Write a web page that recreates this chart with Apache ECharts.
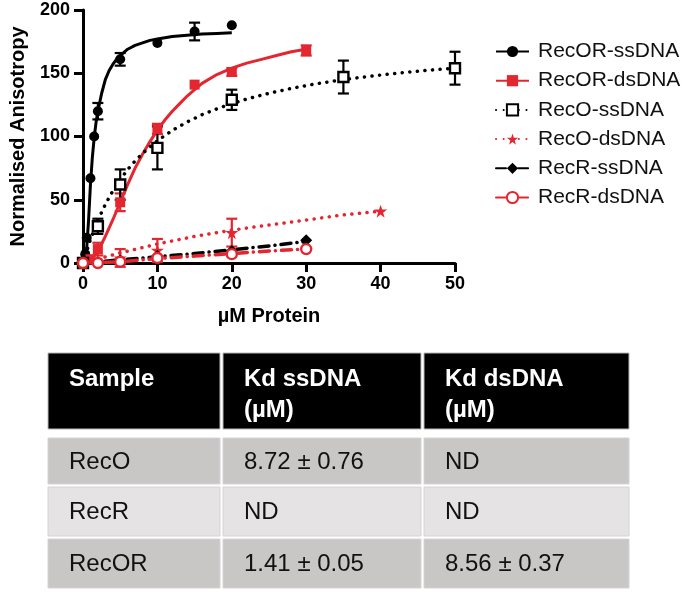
<!DOCTYPE html>
<html><head><meta charset="utf-8">
<script src="https://cdn.jsdelivr.net/npm/echarts@6/dist/echarts.min.js"></script>
<style>html,body{margin:0;padding:0;background:#fff}#c{width:683px;height:592px}</style>
</head><body><div id="c"></div>
<script>
// ---- data ----
const seriesNames = ['RecOR-ssDNA','RecOR-dsDNA','RecO-ssDNA','RecO-dsDNA','RecR-ssDNA','RecR-dsDNA'];
const xTicks = [0,10,20,30,40,50];
const yTicks = [0,50,100,150,200];

// measured points (x, y, error)
const ptX_RecOR_ss = [0, 0.3, 0.5, 1, 1.5, 2, 5, 10, 15, 20];
const ptY_RecOR_ss = [0, 7, 20, 67, 100, 120, 161, 174, 183, 188];
const ptE_RecOR_ss = [0, 0, 0, 0, 0, 6.5, 5, 0, 7, 0];

const ptX_RecOR_ds = [0, 1, 2, 5, 10, 15, 20, 30];
const ptY_RecOR_ds = [0, 3, 11, 48, 106, 141, 151, 168];
const ptE_RecOR_ds = [0, 0, 5, 7, 4, 0, 3, 4];

const ptX_RecO_ss = [0, 2, 5, 10, 20, 35, 50];
const ptY_RecO_ss = [0, 29, 62, 91, 129, 147, 154];
const ptE_RecO_ss = [0, 6, 12, 17, 8, 13, 13];

const ptX_RecO_ds = [0, 2, 5, 10, 20, 40];
const ptY_RecO_ds = [0, 1, 4, 10, 24, 41];
const ptE_RecO_ds = [0, 0, 7, 9, 11, 0];

const ptX_RecR_ss = [0, 2, 5, 10, 20, 30];
const ptY_RecR_ss = [0, 0.5, 2, 5.5, 9.5, 18];

const ptX_RecR_ds = [0, 2, 5, 10, 20, 30];
const ptY_RecR_ds = [0, 0, 1, 4, 7, 11];

// fitted curves
const fitX_RecOR_ss = [0, 0.25, 0.5, 0.75, 1, 1.25, 1.5, 1.75, 2, 2.5, 3, 3.5, 4, 4.5, 5, 6, 7, 8, 9, 10, 12, 14, 16, 18, 20];
const fitY_RecOR_ss = [0, 3, 12, 34, 62, 83, 99, 111, 120, 134, 145, 152, 157, 161, 164, 169, 172, 174, 176, 177, 179, 180, 181, 181.5, 182];

const fitX_RecOR_ds = [0, 1, 2, 3, 4, 5, 6, 7, 8, 9, 10, 11, 12, 13, 14, 15, 16, 18, 20, 22, 24, 26, 28, 30];
const fitY_RecOR_ds = [0, 2, 9, 21, 34, 48, 62, 75, 86, 96, 105, 113, 120, 126, 132, 137, 142, 149, 154, 158, 161, 164, 167, 169];

const fitX_RecO_ss = [0, 1, 2, 3, 4, 5, 6, 7, 8, 9, 10, 12, 14, 16, 18, 20, 22, 25, 28, 31, 34, 37, 40, 43, 46, 50];
const fitY_RecO_ss = [0, 18.6, 33.8, 46.3, 56.9, 66, 73.8, 80.6, 86.6, 91.9, 96.7, 104.8, 111.5, 117.2, 121.9, 126, 129.6, 134.2, 138, 141.3, 144.1, 146.5, 148.6, 150.5, 152.2, 154.1];

const fitX_RecO_ds = [0, 5, 10, 15, 20, 25, 30, 35, 40];
const fitY_RecO_ds = [0, 8, 15, 21, 26, 30, 34, 38, 41];

const fitX_RecR_ss = [0, 5, 10, 15, 20, 25, 30];
const fitY_RecR_ss = [0, 2.5, 5, 7.5, 10.5, 13.5, 17];

const fitX_RecR_ds = [0, 5, 10, 15, 20, 25, 30];
const fitY_RecR_ds = [0, 1, 3.5, 5.5, 7.5, 9.5, 11];

// table
const tableHeader = [['Sample'], ['Kd ssDNA', '(µM)'], ['Kd dsDNA', '(µM)']];
const tableRows = [
  ['RecO', '8.72 ± 0.76', 'ND'],
  ['RecR', 'ND', 'ND'],
  ['RecOR', '1.41 ± 0.05', '8.56 ± 0.37']
];

// ---- styles ----
const RED = '#e3262f', BLK = '#000';
const FONT = '"Liberation Sans", Arial, Helvetica, sans-serif';
const STAR = 'path://M50,0 L61.8,35.4 L99,35.4 L69,57.3 L80.4,93 L50,71 L19.6,93 L31,57.3 L1,35.4 L38.2,35.4 Z';

function zip(xs, ys) { return xs.map((x, i) => [x, ys[i]]); }
function zip3(xs, ys, es) { return xs.map((x, i) => [x, ys[i], es[i]]).filter(d => d[2] > 0); }

const defs = [
  {name: seriesNames[0], color: BLK, fx: fitX_RecOR_ss, fy: fitY_RecOR_ss, px: ptX_RecOR_ss, py: ptY_RecOR_ss, pe: ptE_RecOR_ss,
   symbol: 'circle', size: 10, line: {type: 'solid', width: 3}},
  {name: seriesNames[1], color: RED, fx: fitX_RecOR_ds, fy: fitY_RecOR_ds, px: ptX_RecOR_ds, py: ptY_RecOR_ds, pe: ptE_RecOR_ds,
   symbol: 'rect', size: 10, line: {type: 'solid', width: 3}},
  {name: seriesNames[2], color: BLK, fx: fitX_RecO_ss, fy: fitY_RecO_ss, px: ptX_RecO_ss, py: ptY_RecO_ss, pe: ptE_RecO_ss,
   symbol: 'emptyRect', size: 11, line: {type: [0.1, 7.5], width: 3.5, cap: 'round'}},
  {name: seriesNames[3], color: RED, fx: fitX_RecO_ds, fy: fitY_RecO_ds, px: ptX_RecO_ds, py: ptY_RecO_ds, pe: ptE_RecO_ds,
   symbol: STAR, size: 13, line: {type: [0.1, 7.5], width: 3.5, cap: 'round'}},
  {name: seriesNames[4], color: BLK, fx: fitX_RecR_ss, fy: fitY_RecR_ss, px: ptX_RecR_ss, py: ptY_RecR_ss, pe: null,
   symbol: 'diamond', size: 12, line: {type: [10, 6, 0.1, 6], width: 3.5, cap: 'round'}},
  {name: seriesNames[5], color: RED, fx: fitX_RecR_ds, fy: fitY_RecR_ds, px: ptX_RecR_ds, py: ptY_RecR_ds, pe: null,
   symbol: 'emptyCircle', size: 11, line: {type: [10, 6, 0.1, 6], width: 3.5, cap: 'round'}}
];

const series = [];
defs.forEach((d, i) => {
  series.push({
    name: d.name, type: 'line', data: zip(d.fx, d.fy), smooth: false,
    showSymbol: false, symbol: d.symbol, symbolSize: d.size,
    lineStyle: Object.assign({color: d.color, join: 'round'}, d.line),
    itemStyle: {color: d.color},
    clip: false, silent: true, z: 2 + i, animation: false
  });
});
defs.forEach((d, i) => {
  if (d.pe) {
    series.push({
      type: 'custom', data: zip3(d.px, d.py, d.pe), clip: false, silent: true, z: 10, animation: false,
      renderItem: function (params, api) {
        const x = api.value(0), y = api.value(1), e = api.value(2);
        const top = api.coord([x, y + e]), bot = api.coord([x, y - e]);
        const w = 5.5;
        const st = {stroke: d.color, lineWidth: 2.2};
        return {type: 'group', children: [
          {type: 'line', shape: {x1: top[0], y1: top[1], x2: bot[0], y2: bot[1]}, style: st},
          {type: 'line', shape: {x1: top[0] - w, y1: top[1], x2: top[0] + w, y2: top[1]}, style: st},
          {type: 'line', shape: {x1: bot[0] - w, y1: bot[1], x2: bot[0] + w, y2: bot[1]}, style: st}
        ]};
      }
    });
  }
});
defs.forEach((d, i) => {
  const empty = d.symbol.indexOf('empty') === 0;
  const sym = empty ? (d.symbol === 'emptyRect' ? 'rect' : 'circle') : d.symbol;
  series.push({
    name: d.name, type: 'scatter', data: zip(d.px, d.py), symbol: sym, symbolSize: empty ? d.size - 1 : d.size,
    itemStyle: empty ? {color: '#fff', borderColor: d.color, borderWidth: 2.4, opacity: 1} : {color: d.color, opacity: 1},
    clip: false, silent: true, z: 20 + i, animation: false
  });
});

// table graphics
const colX = [48, 223, 424], colW = [172, 198, 205];
const headY = 353, headH = 76;
const rowY = [438, 487, 539], rowH = [46, 49, 49];
const rowFill = ['#c9c6c6', '#e5e3e3', '#c9c6c6'];
const graphics = [];
tableHeader.forEach((lines, c) => {
  graphics.push({type: 'rect', shape: {x: colX[c], y: headY, width: colW[c], height: headH},
    style: {fill: '#000', stroke: '#b8b8b8', lineWidth: 1}});
  lines.forEach((t, k) => {
    graphics.push({type: 'text', x: colX[c] + 21, y: 379 + k * 31,
      style: {text: t, fill: '#fff', font: 'bold 24px ' + FONT, verticalAlign: 'middle', align: 'left'}});
  });
});
tableRows.forEach((row, r) => {
  row.forEach((t, c) => {
    graphics.push({type: 'rect', shape: {x: colX[c], y: rowY[r], width: colW[c], height: rowH[r]},
      style: {fill: rowFill[r], stroke: '#d4d4d4', lineWidth: 1}});
    graphics.push({type: 'text', x: colX[c] + 21, y: rowY[r] + rowH[r] / 2 + 1,
      style: {text: t, fill: '#111', font: '24px ' + FONT, verticalAlign: 'middle', align: 'left'}});
  });
});

const chart = echarts.init(document.getElementById('c'), null, {renderer: 'canvas'});
chart.setOption({
  animation: false,
  backgroundColor: '#fff',
  textStyle: {fontFamily: FONT},
  grid: {left: 76.5, right: 228, top: 10, bottom: 329, containLabel: false},
  legend: {
    data: seriesNames, orient: 'vertical', left: 490, top: 36,
    itemWidth: 33, itemHeight: 14, itemGap: 8.2,
    textStyle: {fontSize: 21, color: '#111', fontFamily: FONT, lineHeight: 20, padding: [0, 0, 0, 4]},
    selectedMode: false
  },
  xAxis: {
    type: 'value', min: 0, max: 50, interval: 10,
    name: 'µM Protein', nameLocation: 'middle', nameGap: 43,
    nameTextStyle: {fontSize: 20, fontWeight: 'bold', color: '#000', fontFamily: FONT},
    axisLine: {lineStyle: {color: '#000', width: 3}},
    axisTick: {length: 9, lineStyle: {color: '#000', width: 3}},
    axisLabel: {fontSize: 18, fontWeight: 'bold', color: '#000', margin: 12, fontFamily: FONT,
      customValues: xTicks},
    splitLine: {show: false}
  },
  yAxis: {
    type: 'value', min: 0, max: 200, interval: 50,
    name: 'Normalised Anisotropy', nameLocation: 'middle', nameGap: 55,
    nameTextStyle: {fontSize: 20, fontWeight: 'bold', color: '#000', fontFamily: FONT},
    axisLine: {show: true, lineStyle: {color: '#000', width: 3}},
    axisTick: {show: true, length: 9, lineStyle: {color: '#000', width: 3}},
    axisLabel: {fontSize: 18, fontWeight: 'bold', color: '#000', margin: 13, fontFamily: FONT,
      customValues: yTicks},
    splitLine: {show: false}
  },
  series: series,
  graphic: graphics
});
</script>
</body></html>
